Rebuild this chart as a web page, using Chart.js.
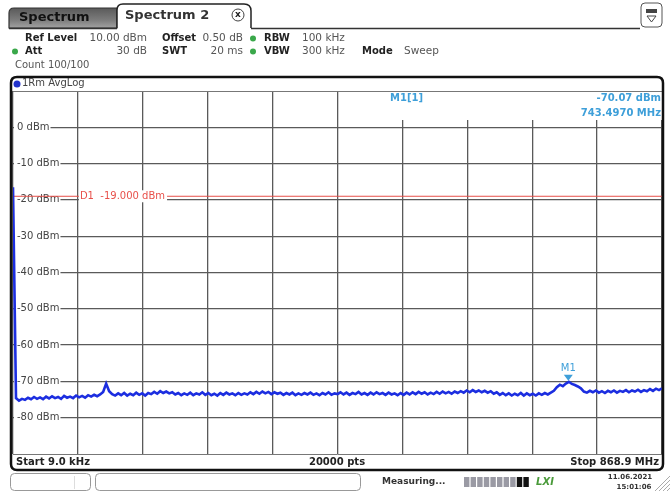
<!DOCTYPE html>
<html>
<head>
<meta charset="utf-8">
<script src="https://cdn.jsdelivr.net/npm/chart.js@4.4.0/dist/chart.umd.min.js"></script>
<style>
  html, body { margin: 0; padding: 0; background: #fff; }
  canvas { display: block; }
</style>
</head>
<body>
<canvas id="c" width="671" height="492"></canvas>
<script>
// sweep settings (MHz)
const startMHz = 0.009;
const stopMHz = 868.9;
const gridDivs = 10;

// level axis (dBm)
const yTicks = [10, 0, -10, -20, -30, -40, -50, -60, -70, -80, -90];

// display line and marker
const d1Level = -19.0;
const markerFreq = 743.497;
const markerLevel = -70.07;

// trace levels, dBm left to right
const levels = [
  -16.5, -74.6, -75.3, -74.8, -75.1, -74.5, -74.9, -74.3, -74.8, -74.4,
  -74.9, -74.2, -74.7, -74.1, -74.6, -74.3, -74.8, -74.0, -74.5, -74.2,
  -74.6, -73.9, -74.4, -74.0, -74.5, -73.8, -74.2, -73.7, -74.1, -73.6,
  -72.9, -70.6, -72.7, -73.5, -73.9, -73.3, -73.8, -73.2, -73.9, -73.4,
  -73.8, -73.1, -73.7, -73.3, -73.9, -73.2, -73.5, -72.9, -73.4, -72.7,
  -73.2, -72.8, -73.3, -73.0, -73.6, -73.2, -73.8, -73.3, -73.7, -73.1,
  -73.8, -73.3, -73.6, -73.0, -73.7, -73.2, -73.8, -73.4, -73.9, -73.2,
  -73.7, -73.1, -73.6, -73.3, -73.8, -73.2, -73.7, -73.3, -73.6, -73.0,
  -73.5, -72.9, -73.4, -72.8, -73.3, -72.9, -73.5, -73.0, -73.4, -73.1,
  -73.7, -73.2, -73.6, -73.1, -73.8, -73.3, -73.7, -73.2, -73.6, -73.1,
  -73.7, -73.3, -73.8, -73.2, -73.6, -73.0, -73.7, -73.3, -73.5, -73.0,
  -73.6, -73.1, -73.7, -73.2, -73.5, -72.9, -73.6, -73.2, -73.7, -73.1,
  -73.6, -73.0, -73.5, -73.2, -73.7, -73.1, -73.6, -73.3, -73.8, -73.2,
  -73.7, -73.1, -73.6, -73.0, -73.5, -72.9, -73.4, -73.0, -73.6, -73.1,
  -73.5, -72.9, -73.4, -72.8, -73.3, -72.9, -73.4, -72.8, -73.2, -72.7,
  -73.1, -72.5, -73.0, -72.4, -72.9, -72.5, -73.0, -72.6, -73.1, -72.7,
  -73.4, -73.0, -73.7, -73.2, -73.8, -73.3, -73.9, -73.4, -73.8, -73.2,
  -73.9, -73.3, -73.8, -73.4, -73.9, -73.3, -73.7, -73.2, -73.6, -73.1,
  -72.6, -71.6, -70.9, -71.3, -70.6, -70.1, -70.7, -71.0, -71.4, -71.9,
  -72.8, -73.1, -72.6, -73.0, -72.5, -73.1, -72.7, -73.2, -72.6, -73.0,
  -72.5, -73.1, -72.6, -72.9, -72.4, -73.0, -72.5, -72.8, -72.3, -72.9,
  -72.4, -72.7, -72.1, -72.6, -72.0, -72.4, -71.9
];

// points are equally spaced over the sweep
const stepMHz = (stopMHz - startMHz) / (levels.length - 1);
const trace = levels.map((v, i) => ({ x: startMHz + i * stepMHz, y: v }));
const gridFreqs = [];
for (let k = 0; k <= gridDivs; k++) gridFreqs.push(startMHz + k * (stopMHz - startMHz) / gridDivs);

const FONT = '"DejaVu Sans", Verdana, sans-serif';
const MARK = '#3e9fd9';

function roundPath(ctx, x, y, w, h, r) {
  ctx.beginPath();
  ctx.moveTo(x + r, y);
  ctx.lineTo(x + w - r, y);
  ctx.quadraticCurveTo(x + w, y, x + w, y + r);
  ctx.lineTo(x + w, y + h - r);
  ctx.quadraticCurveTo(x + w, y + h, x + w - r, y + h);
  ctx.lineTo(x + r, y + h);
  ctx.quadraticCurveTo(x, y + h, x, y + h - r);
  ctx.lineTo(x, y + r);
  ctx.quadraticCurveTo(x, y, x + r, y);
  ctx.closePath();
}

function txt(ctx, s, x, y, font, color, align) {
  ctx.font = font;
  ctx.fillStyle = color;
  ctx.textAlign = align || 'left';
  ctx.textBaseline = 'middle';
  ctx.fillText(s, x, y);
}

function dot(ctx, x, y, r, color) {
  ctx.beginPath();
  ctx.arc(x, y, r, 0, Math.PI * 2);
  ctx.fillStyle = color;
  ctx.fill();
}

const screenPlugin = {
  id: 'screen',
  beforeDraw(chart) {
    const ctx = chart.ctx;
    ctx.save();
    ctx.fillStyle = '#fff';
    ctx.fillRect(0, 0, chart.width, chart.height);

    // inactive tab
    const g = ctx.createLinearGradient(0, 8, 0, 28);
    g.addColorStop(0, '#5a5a5a');
    g.addColorStop(0.6, '#7c7c7c');
    g.addColorStop(1, '#a2a2a2');
    ctx.beginPath();
    ctx.moveTo(9, 28);
    ctx.lineTo(9, 13);
    ctx.quadraticCurveTo(9, 8, 14, 8);
    ctx.lineTo(117, 8);
    ctx.lineTo(117, 28);
    ctx.closePath();
    ctx.fillStyle = g;
    ctx.fill();
    ctx.strokeStyle = '#333';
    ctx.lineWidth = 1.2;
    ctx.stroke();
    txt(ctx, 'Spectrum', 19, 18, 'bold 13px ' + FONT, '#111');

    // active tab
    ctx.beginPath();
    ctx.moveTo(117, 28);
    ctx.lineTo(117, 10);
    ctx.quadraticCurveTo(117, 4, 123, 4);
    ctx.lineTo(244, 4);
    ctx.quadraticCurveTo(251, 4, 251, 11);
    ctx.lineTo(251, 28);
    ctx.fillStyle = '#fff';
    ctx.fill();
    ctx.strokeStyle = '#222';
    ctx.lineWidth = 1.5;
    ctx.stroke();
    txt(ctx, 'Spectrum 2', 125, 16, 'bold 13px ' + FONT, '#333');
    ctx.beginPath();
    ctx.arc(238, 15, 6, 0, Math.PI * 2);
    ctx.strokeStyle = '#444';
    ctx.lineWidth = 1;
    ctx.stroke();
    txt(ctx, 'x', 238, 14.5, 'bold 9px ' + FONT, '#222', 'center');

    // tab base line
    ctx.beginPath();
    ctx.moveTo(9, 28.5); ctx.lineTo(117, 28.5);
    ctx.moveTo(251, 28.5); ctx.lineTo(640, 28.5);
    ctx.strokeStyle = '#333';
    ctx.lineWidth = 1.5;
    ctx.stroke();

    // top right icon
    roundPath(ctx, 641, 3, 21, 24, 4);
    ctx.strokeStyle = '#555';
    ctx.lineWidth = 1;
    ctx.stroke();
    ctx.fillStyle = '#444';
    ctx.fillRect(646, 9, 11, 4);
    ctx.beginPath();
    ctx.moveTo(647, 16); ctx.lineTo(656, 16); ctx.lineTo(651.5, 22); ctx.closePath();
    ctx.strokeStyle = '#444';
    ctx.stroke();

    // setting rows
    const B = 'bold 10px ' + FONT, R = '10.5px ' + FONT;
    const lab = '#222', val = '#555', grn = '#3aa84a';
    txt(ctx, 'Ref Level', 25, 38, B, lab);
    txt(ctx, '10.00 dBm', 147, 38, R, val, 'right');
    txt(ctx, 'Offset', 162, 38, B, lab);
    txt(ctx, '0.50 dB', 243, 38, R, val, 'right');
    dot(ctx, 253, 38.5, 3, grn);
    txt(ctx, 'RBW', 264, 38, B, lab);
    txt(ctx, '100 kHz', 302, 38, R, val);

    dot(ctx, 15, 51.5, 3, grn);
    txt(ctx, 'Att', 25, 51, B, lab);
    txt(ctx, '30 dB', 147, 51, R, val, 'right');
    txt(ctx, 'SWT', 162, 51, B, lab);
    txt(ctx, '20 ms', 243, 51, R, val, 'right');
    dot(ctx, 253, 51.5, 3, grn);
    txt(ctx, 'VBW', 264, 51, B, lab);
    txt(ctx, '300 kHz', 302, 51, R, val);
    txt(ctx, 'Mode', 362, 51, B, lab);
    txt(ctx, 'Sweep', 404, 51, R, val);

    txt(ctx, 'Count 100/100', 15, 65, '10px ' + FONT, val);

    // trace header row
    dot(ctx, 17, 84, 3.5, '#2233cc');
    txt(ctx, '1Rm AvgLog', 22, 83.5, '10px ' + FONT, '#444');
    ctx.restore();
  },
  beforeDatasetsDraw(chart) {
    const ctx = chart.ctx;
    const x = chart.scales.x, y = chart.scales.y;
    const a = chart.chartArea;
    ctx.save();

    // marker readout box
    ctx.fillStyle = '#fff';
    ctx.fillRect(340, a.top + 1, a.right - 340, 28);
    txt(ctx, 'M1[1]', 390, 98, 'bold 10px ' + FONT, MARK);
    txt(ctx, markerLevel.toFixed(2) + ' dBm', 661, 98, 'bold 10px ' + FONT, MARK, 'right');
    txt(ctx, markerFreq.toFixed(4) + ' MHz', 661, 113.5, 'bold 10px ' + FONT, MARK, 'right');

    // display line D1
    const yd = y.getPixelForValue(d1Level);
    ctx.beginPath();
    ctx.moveTo(a.left, yd);
    ctx.lineTo(a.right, yd);
    ctx.strokeStyle = '#e8504a';
    ctx.lineWidth = 1;
    ctx.stroke();
    const label = 'D1  ' + d1Level.toFixed(3) + ' dBm';
    ctx.font = '10px ' + FONT;
    const lx = x.getPixelForValue(gridFreqs[1]) + 1;
    const w = ctx.measureText(label).width;
    ctx.fillStyle = '#fff';
    ctx.fillRect(lx, yd - 6, w + 3, 12);
    txt(ctx, label, lx + 1, yd, '10px ' + FONT, '#e8504a');
    ctx.restore();
  },
  afterDraw(chart) {
    const ctx = chart.ctx;
    const x = chart.scales.x, y = chart.scales.y;
    const a = chart.chartArea;
    ctx.save();

    // marker M1
    const mx = x.getPixelForValue(markerFreq), my = y.getPixelForValue(markerLevel);
    ctx.beginPath();
    ctx.moveTo(mx - 4.5, my - 7);
    ctx.lineTo(mx + 4.5, my - 7);
    ctx.lineTo(mx, my - 1);
    ctx.closePath();
    ctx.fillStyle = MARK;
    ctx.fill();
    txt(ctx, 'M1', mx, my - 13, '10px ' + FONT, MARK, 'center');

    // bottom info row
    ctx.fillStyle = '#fff';
    ctx.fillRect(a.left, a.bottom + 1, a.right - a.left, 15);
    ctx.beginPath();
    ctx.moveTo(a.left, a.bottom + 0.5); ctx.lineTo(a.right, a.bottom + 0.5);
    ctx.moveTo(a.left, a.top + 0.5); ctx.lineTo(a.right, a.top + 0.5);
    ctx.strokeStyle = '#777';
    ctx.lineWidth = 1;
    ctx.stroke();
    const B = 'bold 10px ' + FONT;
    txt(ctx, 'Start 9.0 kHz', 16, 462, B, '#222');
    txt(ctx, '20000 pts', 337, 462, B, '#222', 'center');
    txt(ctx, 'Stop 868.9 MHz', 659, 462, B, '#222', 'right');

    // screen frame
    roundPath(ctx, 11, 77, 652, 393, 6);
    ctx.strokeStyle = '#111';
    ctx.lineWidth = 2.5;
    ctx.stroke();

    // status bar
    ctx.strokeStyle = '#999';
    ctx.lineWidth = 1;
    roundPath(ctx, 10.5, 473.5, 80, 17, 4);
    ctx.stroke();
    ctx.beginPath();
    ctx.moveTo(74.5, 476); ctx.lineTo(74.5, 489);
    ctx.strokeStyle = '#ddd';
    ctx.stroke();
    roundPath(ctx, 95.5, 473.5, 265, 17, 4);
    ctx.strokeStyle = '#999';
    ctx.stroke();
    txt(ctx, 'Measuring...', 382, 482, 'bold 9px ' + FONT, '#333');
    for (let i = 0; i < 10; i++) {
      ctx.fillStyle = i >= 8 ? '#111' : '#9a9aa4';
      ctx.fillRect(464 + i * 6.6, 477, 5.4, 10);
    }
    txt(ctx, 'LXI', 545, 482, 'bold italic 10px ' + FONT, '#4a9a3a', 'center');
    txt(ctx, '11.06.2021', 630, 477.5, 'bold 7px ' + FONT, '#333', 'center');
    txt(ctx, '15:01:06', 634, 487.5, 'bold 7px ' + FONT, '#333', 'center');
    ctx.beginPath();
    for (let k = 0; k < 4; k++) {
      ctx.moveTo(655 + k * 4, 491); ctx.lineTo(670, 476 + k * 4);
    }
    ctx.strokeStyle = '#aaa';
    ctx.stroke();
    ctx.restore();
  }
};

new Chart(document.getElementById('c'), {
  type: 'line',
  data: {
    datasets: [{
      data: trace,
      borderColor: '#1c2ee0',
      borderWidth: 2.6,
      pointRadius: 0,
      tension: 0,
      fill: false
    }]
  },
  options: {
    responsive: false,
    animation: false,
    events: [],
    layout: { padding: { left: 13, right: 9, top: 91, bottom: 38 } },
    plugins: { legend: { display: false }, tooltip: { enabled: false } },
    scales: {
      x: {
        type: 'linear',
        min: startMHz,
        max: stopMHz,
        afterBuildTicks: (s) => { s.ticks = gridFreqs.map(v => ({ value: v })); },
        afterFit: (s) => { s.height = 0; },
        ticks: { display: false },
        grid: { color: '#5a5a5a', lineWidth: 1.3, drawTicks: false },
        border: { display: false }
      },
      y: {
        type: 'linear',
        min: -90,
        max: 10,
        afterBuildTicks: (s) => { s.ticks = yTicks.map(v => ({ value: v })); },
        afterFit: (s) => { s.width = 0; },
        ticks: {
          mirror: true,
          padding: 4,
          color: '#444',
          font: { family: FONT, size: 10 },
          showLabelBackdrop: true,
          backdropColor: '#fff',
          backdropPadding: { left: 3, right: 1, top: 1, bottom: 1 },
          callback: (v) => (v === 10 || v === -90) ? null : v + ' dBm'
        },
        grid: { color: '#5a5a5a', lineWidth: 1.3, drawTicks: false },
        border: { display: false }
      }
    }
  },
  plugins: [screenPlugin]
});
</script>
</body>
</html>
